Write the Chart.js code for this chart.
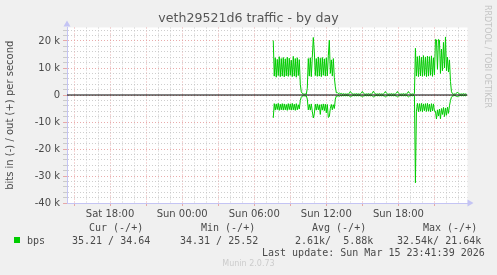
<!DOCTYPE html>
<html>
<head>
<meta charset="utf-8">
<script src="https://cdn.jsdelivr.net/npm/chart.js@4"></script>
<style>
  body { margin: 0; background: #f0f0f0; }
  #wrap { position: relative; width: 497px; height: 275px; overflow: hidden; }
  #chart { position: absolute; left: 0; top: 0; }
  .txt { position: absolute; white-space: pre; color: #4a4a4a; line-height: 1; }
  .mono { font: 10px "DejaVu Sans Mono", monospace; }
  #title { left: 0; width: 497px; top: 10px; text-align: center; font: 12.6px "DejaVu Sans", sans-serif; color: #555; }
  #rrd { left: 492px; top: 5px; transform-origin: 0 0; transform: rotate(90deg); font: 8px "DejaVu Sans", sans-serif; color: #c4c4c4; }
  #munin { left: 0; width: 497px; text-align: center; top: 259px; font: 8px "DejaVu Sans", sans-serif; color: #cccccc; }
  #swatch { position: absolute; left: 14px; top: 237px; width: 6px; height: 6px; background: #00cc00; }
</style>
</head>
<body>
<div id="wrap">
  <canvas id="chart" width="497" height="275"></canvas>
  <div id="title" class="txt">veth29521d6 traffic - by day</div>
  <div id="rrd" class="txt">RRDTOOL / TOBI OETIKER</div>
  <div class="txt mono" style="left:89px; top:222px;">Cur (-/+)</div>
  <div class="txt mono" style="left:201px; top:222px;">Min (-/+)</div>
  <div class="txt mono" style="left:312px; top:222px;">Avg (-/+)</div>
  <div class="txt mono" style="left:423px; top:222px;">Max (-/+)</div>
  <div id="swatch"></div>
  <div class="txt mono" style="left:27px; top:235px;">bps</div>
  <div class="txt mono" style="left:72px; top:235px;">35.21 / 34.64</div>
  <div class="txt mono" style="left:180px; top:235px;">34.31 / 25.52</div>
  <div class="txt mono" style="left:295px; top:235px;">2.61k/  5.88k</div>
  <div class="txt mono" style="left:397px; top:235px;">32.54k/ 21.64k</div>
  <div class="txt mono" style="left:262px; top:247px;">Last update: Sun Mar 15 23:41:39 2026</div>
  <div id="munin" class="txt">Munin 2.0.73</div>
</div>
<script>
// time axis in hours since Sat 00:00
const xMin = 14.4167;
const xMax = 47.75;
const labelHours = [18, 24, 30, 36, 42];
const labelText = ["Sat 18:00", "Sun 00:00", "Sun 06:00", "Sun 12:00", "Sun 18:00"];

// 5 minute samples starting Sun 07:35, values in kbit/s
const startHour = 31 + 35 / 60;
const stepHours = 5 / 60;

const outBps = [
    20.2,
    7.0, 13.8, 6.6, 13.2, 7.2, 14.2, 6.8, 13.5, 7.0, 13.9, 6.7, 13.4, 7.1,
    14.0, 6.9, 13.6, 7.3, 12.9, 6.8, 14.3, 7.0, 13.5, 6.6, 13.8, 7.2, 13.1,
    4.0, 1.2, 0.6, 0.4, 0.3, 0.4, 0.3, 2.5,
    13.5, 7.0, 13.8, 6.8, 14.0, 21.3, 16.0,
    7.2, 13.5, 6.9, 14.1, 7.0, 13.6, 6.8, 13.9, 7.3, 13.4, 7.0, 13.8, 7.1,
    14.5, 20.3, 8.0, 13.0, 7.0, 13.5, 6.5, 3.0, 0.8,
    0.9, 0.5, 0.8, 0.4, 0.6, 0.3, 0.5, 0.3, 0.4, 0.3, 0.4, 0.3,
    0.7, 1.3, 0.8, 0.4, 0.3, 0.4, 0.3, 0.5, 0.3, 0.4, 0.3, 0.4,
    0.7, 1.3, 0.7, 0.4, 0.3, 0.4, 0.3, 0.5, 0.3, 0.4, 0.3, 0.7,
    1.4, 0.8, 0.4, 0.3, 0.4, 0.3, 0.5, 0.3, 0.4, 0.3, 0.4, 0.7,
    1.3, 0.7, 0.4, 0.3, 0.4, 0.3, 0.5, 0.3, 0.4, 0.3, 0.4, 0.7,
    1.3, 0.7, 0.4, 0.3, 0.4, 0.3, 0.5, 0.3, 0.4, 0.3, 0.7, 1.3,
    0.7, 0.4, 0.3, 0.4, 0.3, 0.5,
    17.3,
    7.0, 14.2, 6.8, 14.5, 7.1, 14.0, 6.9, 14.6, 7.2, 14.1, 6.8, 14.4, 7.0,
    14.2, 7.3, 14.5, 6.9, 13.8, 7.5,
    20.6, 20.4, 9.5, 20.6, 20.3, 8.0, 17.0, 9.0, 19.5, 10.0, 21.5, 9.0,
    14.0, 8.5, 13.0, 5.0, 1.2, 0.5,
    0.3, 0.4, 0.3, 0.7, 1.1, 0.6, 0.4, 0.3, 0.4, 0.3, 0.5, 0.3, 0.4, 0.3
];

const inBps = [
    -8.5,
    -3.2, -5.6, -3.3, -5.4, -3.1, -5.7, -3.4, -5.5, -3.2, -5.6, -3.3, -5.5, -3.5,
    -5.7, -3.2, -5.4, -3.3, -5.6, -3.1, -5.5, -3.4, -5.7, -3.2, -5.5, -3.6, -5.2,
    -2.0, -0.8, -0.4, -0.3, -0.3, -0.4, -0.3, -1.5,
    -5.5, -3.5, -5.6, -3.3, -6.0, -8.5, -7.0,
    -3.4, -5.6, -3.3, -5.5, -3.6, -7.2, -3.5, -5.6, -3.3, -5.8, -3.4, -6.6, -3.5,
    -8.3, -8.0, -5.0, -3.5, -5.5, -3.6, -5.0, -1.5, -0.4,
    -0.4, -0.3, -0.5, -0.2, -0.4, -0.2, -0.3, -0.2, -0.3, -0.2, -0.3, -0.2,
    -0.4, -0.7, -0.5, -0.3, -0.2, -0.3, -0.2, -0.3, -0.2, -0.3, -0.2, -0.3,
    -0.4, -0.7, -0.4, -0.3, -0.2, -0.3, -0.2, -0.3, -0.2, -0.3, -0.2, -0.4,
    -0.7, -0.5, -0.3, -0.2, -0.3, -0.2, -0.3, -0.2, -0.3, -0.2, -0.3, -0.4,
    -0.7, -0.4, -0.3, -0.2, -0.3, -0.2, -0.3, -0.2, -0.3, -0.2, -0.3, -0.4,
    -0.7, -0.4, -0.3, -0.2, -0.3, -0.2, -0.3, -0.2, -0.3, -0.2, -0.4, -0.7,
    -0.4, -0.3, -0.2, -0.3, -0.2, -0.3,
    -32.5,
    -6.0, -3.1, -6.2, -3.2, -6.0, -3.1, -6.2, -3.3, -5.8, -3.2, -6.1, -3.1, -6.0,
    -3.4, -6.2, -3.2, -5.9, -3.3, -6.0,
    -6.0, -8.9, -5.5, -7.8, -5.2, -8.8, -5.0, -7.2, -4.6, -8.0, -4.8, -7.5,
    -4.5, -6.8, -4.0, -2.0, -0.8, -0.4,
    -0.3, -0.2, -0.3, -0.5, -0.6, -0.4, -0.3, -0.2, -0.3, -0.2, -0.3, -0.2, -0.3, -0.2
];

const yMin = -40;
const yMax = 25;

const majorGrid = "rgba(228, 150, 150, 0.8)";
const minorGrid = "rgba(190, 190, 190, 0.75)";
const axisBlue = "#c4c4f4";

function toPoints(values) {
    return values.map((v, i) => ({ x: startHour + i * stepHours, y: v }));
}

// little arrow heads at the end of both axes, like rrdtool
const axisArrows = {
    id: "axisArrows",
    afterDraw(chart) {
        const { ctx, chartArea } = chart;
        ctx.save();
        ctx.fillStyle = axisBlue;
        ctx.beginPath();
        ctx.moveTo(chartArea.left - 3.5, chartArea.top - 1);
        ctx.lineTo(chartArea.left + 3.5, chartArea.top - 1);
        ctx.lineTo(chartArea.left, chartArea.top - 7);
        ctx.closePath();
        ctx.fill();
        ctx.beginPath();
        ctx.moveTo(chartArea.right, chartArea.bottom - 3.5);
        ctx.lineTo(chartArea.right, chartArea.bottom + 3.5);
        ctx.lineTo(chartArea.right + 6, chartArea.bottom);
        ctx.closePath();
        ctx.fill();
        ctx.restore();
    }
};

// white plot background
const plotBackground = {
    id: "plotBackground",
    beforeDraw(chart) {
        const { ctx, chartArea } = chart;
        ctx.save();
        ctx.fillStyle = "#ffffff";
        ctx.fillRect(chartArea.left, chartArea.top, chartArea.right - chartArea.left, chartArea.bottom - chartArea.top);
        ctx.restore();
    }
};

const ctx = document.getElementById("chart").getContext("2d");

new Chart(ctx, {
    type: "line",
    data: {
        datasets: [
            {
                label: "zero",
                data: [{ x: xMin, y: 0 }, { x: xMax, y: 0 }],
                borderColor: "#000000",
                borderWidth: 1,
                pointRadius: 0
            },
            {
                label: "out",
                data: toPoints(outBps),
                borderColor: "#00cc00",
                borderWidth: 1,
                pointRadius: 0,
                tension: 0
            },
            {
                label: "in",
                data: toPoints(inBps),
                borderColor: "#00cc00",
                borderWidth: 1,
                pointRadius: 0,
                tension: 0
            }
        ]
    },
    options: {
        responsive: false,
        animation: false,
        devicePixelRatio: 1,
        layout: {
            padding: { left: 0, top: 27.5, right: 29.5, bottom: 52 }
        },
        plugins: {
            legend: { display: false },
            tooltip: { enabled: false }
        },
        scales: {
            x: {
                type: "linear",
                min: xMin,
                max: xMax,
                afterFit: (scale) => { scale.height = 20; },
                afterBuildTicks: (scale) => {
                    const ticks = [];
                    for (let h = Math.ceil(xMin); h <= Math.floor(xMax); h++) {
                        ticks.push({ value: h });
                    }
                    scale.ticks = ticks;
                },
                ticks: {
                    autoSkip: false,
                    maxRotation: 0,
                    padding: 2,
                    color: "#4a4a4a",
                    font: { family: "DejaVu Sans", size: 10 },
                    callback: (value) => {
                        const idx = labelHours.indexOf(value);
                        return idx >= 0 ? labelText[idx] : "";
                    }
                },
                grid: {
                    color: (c) => (c.tick && c.tick.value % 3 === 0 ? majorGrid : minorGrid),
                    tickColor: (c) => (c.tick && c.tick.value % 3 === 0 ? majorGrid : "rgba(0,0,0,0)"),
                    tickLength: 3,
                    lineWidth: 1
                },
                border: { color: axisBlue, width: 1, dash: [1, 2] }
            },
            y: {
                min: yMin,
                max: yMax,
                afterFit: (scale) => { scale.width = 67; },
                afterBuildTicks: (scale) => {
                    const ticks = [];
                    for (let v = yMin; v < yMax; v += 2) {
                        ticks.push({ value: v });
                    }
                    scale.ticks = ticks;
                },
                ticks: {
                    autoSkip: false,
                    padding: 3,
                    color: "#4a4a4a",
                    font: { family: "DejaVu Sans", size: 10 },
                    callback: (value) => {
                        if (value % 10 !== 0) return "";
                        return value === 0 ? "0" : `${value} k`;
                    }
                },
                grid: {
                    color: (c) => (c.tick && c.tick.value % 10 === 0 ? majorGrid : minorGrid),
                    tickColor: (c) => (c.tick && c.tick.value % 10 === 0 ? majorGrid : minorGrid),
                    tickLength: 4,
                    lineWidth: 1
                },
                border: { color: axisBlue, width: 1, dash: [1, 2] },
                title: {
                    display: true,
                    text: "bits in (-) / out (+) per second",
                    color: "#4a4a4a",
                    font: { family: "DejaVu Sans", size: 10 },
                    padding: { top: 4, bottom: 0 }
                }
            }
        }
    },
    plugins: [plotBackground, axisArrows]
});
</script>
</body>
</html>
